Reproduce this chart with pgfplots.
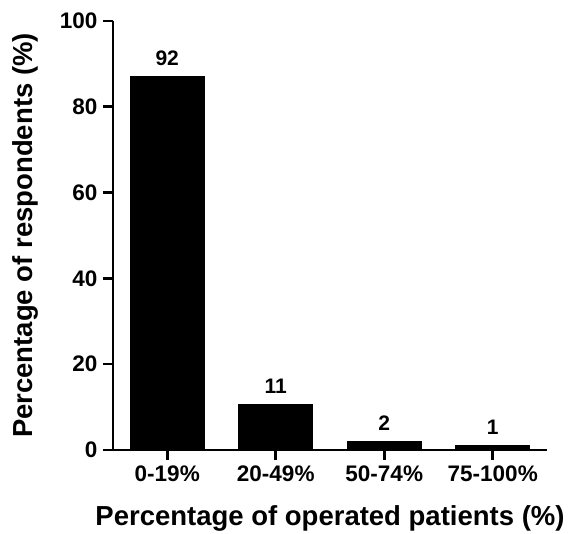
\documentclass[border=0pt]{standalone}
\usepackage{fontspec}
\setmainfont{Liberation Sans}
\usepackage{pgfplots}
\usepackage{pgfplotstable}
\pgfplotsset{compat=1.18}

% bar heights (%) and the counts printed above them
\pgfplotstableread{
x   y     lab
0   87.0  92
1   10.6  11
2   2.0   2
3   1.0   1
}\operated

\begin{document}
\begin{tikzpicture}
  \begin{axis}[
      scale only axis,
      width=434pt, height=429pt,
      xmin=-0.5, xmax=3.5,
      ymin=0, ymax=100,
      axis x line*=bottom,
      axis y line*=left,
      axis line style={line width=2.6pt, -},
      every tick/.style={black, line width=2.6pt},
      tick align=outside,
      major tick length=10pt,
      xtick={0,1,2,3},
      xticklabels={0-19\%, 20-49\%, 50-74\%, 75-100\%},
      ytick={0,20,40,60,80,100},
      /pgf/number format/assume math mode=true,
      tick label style={font=\bfseries\fontsize{22.5}{26}\selectfont},
      xticklabel style={yshift=-2pt},
      yticklabel style={xshift=-2pt},
      xlabel={Percentage of operated patients (\%)},
      ylabel={Percentage of respondents (\%)},
      label style={font=\bfseries\fontsize{27.5}{32}\selectfont},
      xlabel style={at={(axis description cs:0.5,-0.177)}, anchor=base},
      ylabel style={at={(axis description cs:-0.186,0.5)}, anchor=base},
      ybar,
      bar width=74pt,
      nodes near coords,
      point meta=explicit symbolic,
      every node near coord/.append style={font=\bfseries\fontsize{21}{24}\selectfont,
        anchor=base, yshift=11pt},
    ]
    \addplot[fill=black, draw=black, line width=1pt]
      table[x=x, y=y, meta=lab] {\operated};
  \end{axis}
  \pgfresetboundingbox
  \path[use as bounding box] (-113pt,-84pt) rectangle (455pt,450pt);
\end{tikzpicture}
\end{document}
